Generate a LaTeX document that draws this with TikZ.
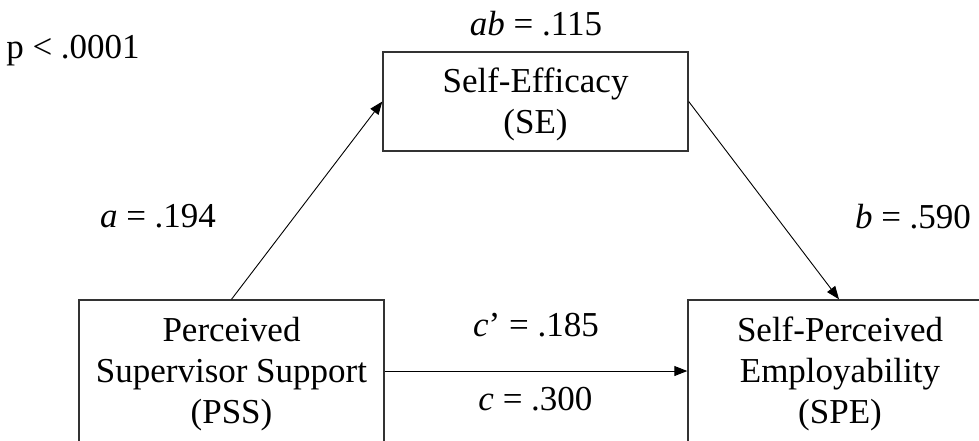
\documentclass[tikz,border=0pt]{standalone}
\usepackage{fontspec}
\setmainfont{Liberation Serif}
\usetikzlibrary{arrows.meta}
\begin{document}
\begin{tikzpicture}[x=1pt,y=-1pt,
  box/.style={draw=black!80, line width=1.4pt, rectangle, inner sep=0pt},
  txt/.style={font=\fontsize{35}{41}\selectfont, align=center, anchor=base, inner sep=0pt},
  lbl/.style={font=\fontsize{35}{41}\selectfont, anchor=base, inner sep=0pt},
  arr/.style={draw=black, line width=0.9pt, -{Triangle[length=13pt,width=10pt]}}]
\useasboundingbox (0,0) rectangle (979,440);
\clip (0,0) rectangle (979,440);
% boxes
\node[box, minimum width=305pt, minimum height=99pt] (se) at (535.5,101.5) {};
\node[box, minimum width=305pt, minimum height=142pt] (pss) at (231.5,371) {};
\node[box, minimum width=302pt, minimum height=142pt] (spe) at (839,371) {};
% box texts (base = baseline of last line)
\node[txt] (setxt) at (535.5,133) {Self-Efficacy\\(SE)};
\node[txt] (psstxt) at (231.5,423) {Perceived\\Supervisor Support\\(PSS)};
\node[txt] (spetxt) at (840,423) {Self-Perceived\\Employability\\(SPE)};
% labels
\node[lbl] (p) at (73,58) {p < .0001};
\node[lbl] (ab) at (536,35) {\textit{ab} = .115};
\node[lbl] (a) at (158,227) {\textit{a} = .194};
\node[lbl] (b) at (913,228) {\textit{b} = .590};
\node[lbl] (cp) at (536,336) {\textit{c}’ = .185};
\node[lbl] (c) at (535.5,410) {\textit{c} = .300};
% connectors
\draw[arr] (pss.north) -- (se.west);
\draw[arr] (se.east) -- (spe.north);
\draw[arr] (pss.east) -- (spe.west);
\end{tikzpicture}
\end{document}
